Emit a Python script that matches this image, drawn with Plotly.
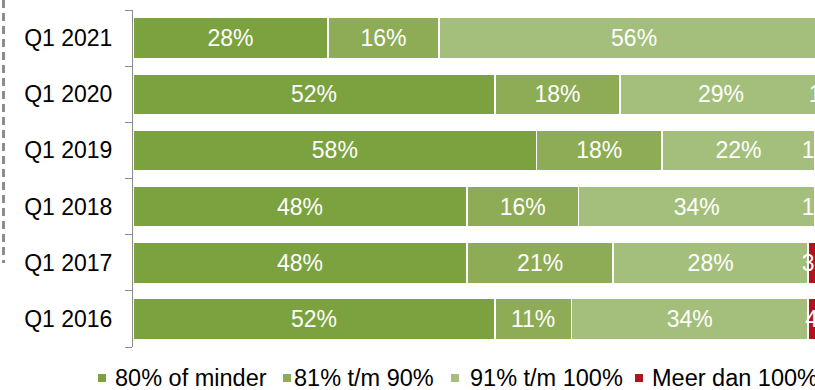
import plotly.graph_objects as go

# Categories and series (share of reports per band, in %)
periods = ["Q1 2016", "Q1 2017", "Q1 2018", "Q1 2019", "Q1 2020", "Q1 2021"]
series_names = ["80% of minder", "81% t/m 90%", "91% t/m 100%", "Meer dan 100%"]
tot_80 = [52, 48, 48, 58, 52, 28]
van_81_90 = [11, 21, 16, 18, 18, 16]
van_91_100 = [34, 28, 34, 22, 29, 56]
meer_100 = [4, 3, 1, 1, 1, 0]

colors = ["#7BA23F", "#8EAC56", "#A4BF7B", "#B3111E"]
FONT = "Liberation Sans, Arial, sans-serif"

# Figure geometry (pixels)
W, H = 815, 390
L, T, B = 133, 10, 43
PW = W - L
PH = H - T - B


def px_x(px):
    return (px - L) / PW


def px_y(py):
    return (H - B - py) / PH


fig = go.Figure()
for name, vals, col in zip(series_names, [tot_80, van_81_90, van_91_100, meer_100], colors):
    fig.add_trace(go.Bar(
        y=periods,
        x=vals,
        name=name,
        orientation="h",
        marker=dict(color=col, line=dict(color="white", width=1.5)),
        text=[f"{v}%" if v else "" for v in vals],
        textposition="inside",
        insidetextanchor="middle",
        constraintext="none",
        textangle=0,
        insidetextfont=dict(color="white", size=23, family=FONT),
        cliponaxis=True,
        showlegend=False,
    ))

# Legend drawn as small squares with labels underneath the plot
legend_sq_x = [98, 283, 451, 635]
legend_txt_x = [113, 292, 468, 650]
shapes = []
annotations = []
for sx, tx, name, col in zip(legend_sq_x, legend_txt_x, series_names, colors):
    shapes.append(dict(type="rect", xref="paper", yref="paper",
                       x0=px_x(sx), x1=px_x(sx + 8), y0=px_y(382), y1=px_y(374),
                       fillcolor=col, line=dict(width=0)))
    annotations.append(dict(text=name, xref="paper", yref="paper",
                            x=px_x(tx), y=px_y(378), xanchor="left", yanchor="middle",
                            showarrow=False, font=dict(size=23.5, color="#000", family=FONT)))

# Dashed guide line on the far left
shapes.append(dict(type="line", xref="paper", yref="paper",
                   x0=px_x(3.5), x1=px_x(3.5), y0=px_y(0), y1=px_y(263),
                   line=dict(color="#8C8C8C", width=3, dash="8px,5px")))

fig.update_layout(
    barmode="stack",
    bargap=0.27,
    width=W,
    height=H,
    margin=dict(l=L, r=0, t=T, b=B, pad=0),
    paper_bgcolor="white",
    plot_bgcolor="white",
    font=dict(family=FONT, size=23, color="#000"),
    shapes=shapes,
    annotations=annotations,
    showlegend=False,
)
fig.update_xaxes(visible=False, range=[0, 98], fixedrange=True)
fig.update_yaxes(
    categoryorder="array",
    categoryarray=periods,
    showline=True,
    linecolor="#8C8C8C",
    linewidth=1,
    ticks="outside",
    tickson="boundaries",
    ticklen=7,
    tickcolor="#8C8C8C",
    tickwidth=1,
    ticklabelstandoff=15,
    tickfont=dict(size=23, color="#000", family=FONT),
    showgrid=False,
    zeroline=False,
    fixedrange=True,
)

fig.write_html("out.html")
